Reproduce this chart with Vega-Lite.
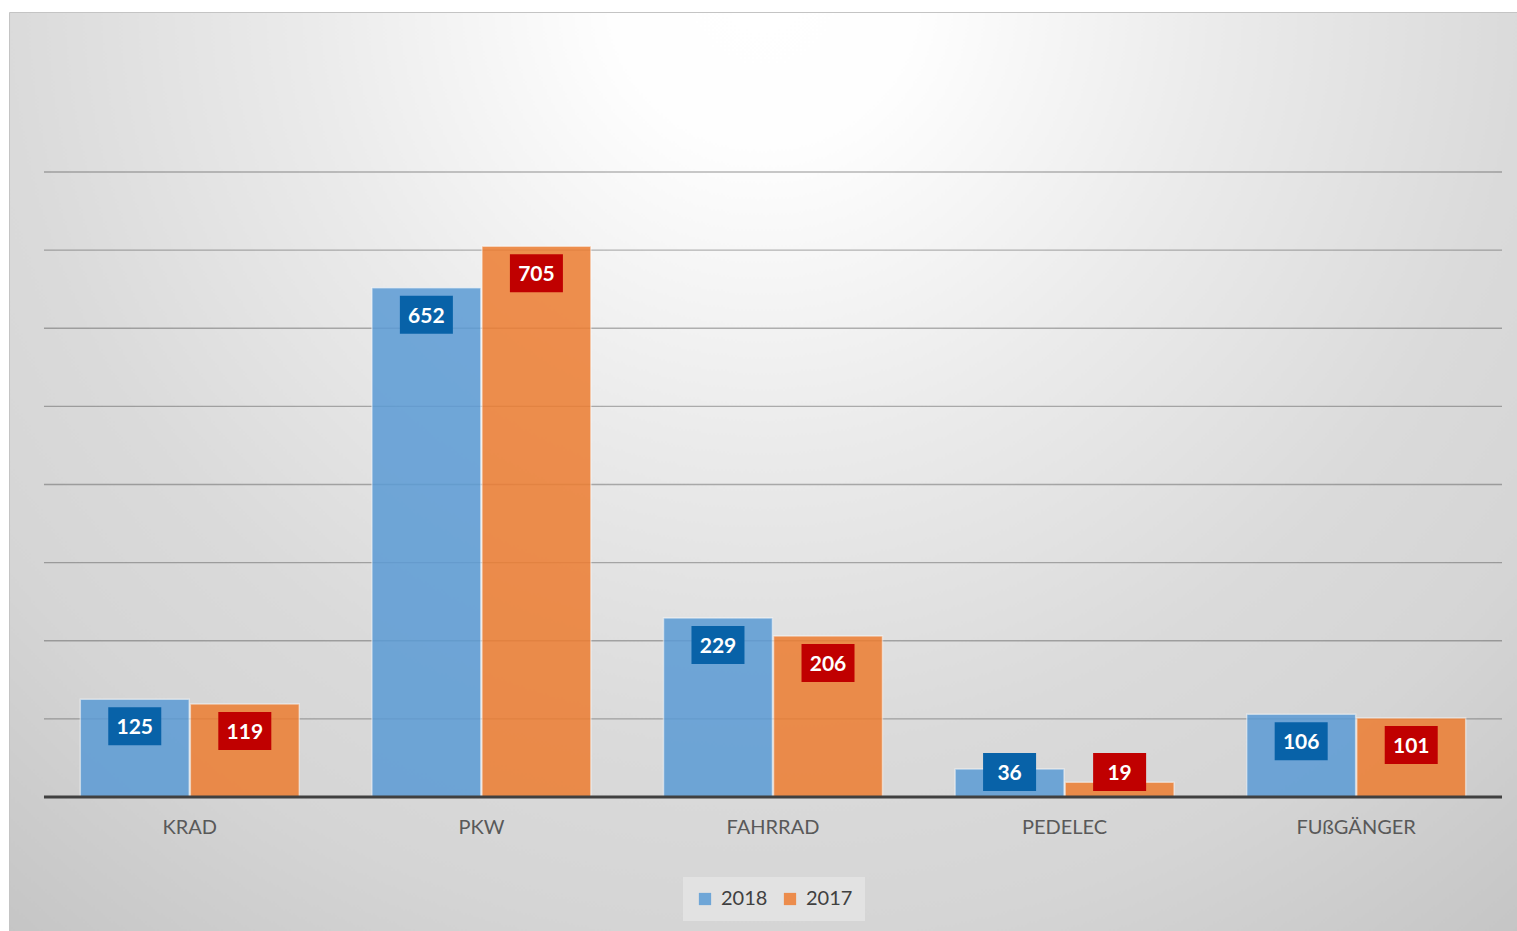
{
  "$schema": "https://vega.github.io/schema/vega-lite/v6.json",
  "width": 1508,
  "height": 919,
  "autosize": {"type": "none"},
  "padding": {"left": 9, "top": 12, "right": 0, "bottom": 0},
  "background": "#ffffff",
  "view": {
    "stroke": "#c4c4c4",
    "fill": {
      "gradient": "radial",
      "x1": 0.5, "y1": 0.182, "r1": 0,
      "x2": 0.5, "y2": 0.182, "r2": 0.8,
      "stops": [
        {"offset": 0, "color": "#ffffff"},
        {"offset": 0.124, "color": "#fefefe"},
        {"offset": 0.373, "color": "#ebebeb"},
        {"offset": 0.63, "color": "#dadada"},
        {"offset": 0.78, "color": "#d5d5d5"},
        {"offset": 1, "color": "#c5c5c5"}
      ]
    }
  },
  "config": {
    "font": "Lato",
    "axis": {"labelFont": "Lato"},
    "legend": {"labelFont": "Lato"}
  },
  "datasets": {
    "counts": [
      {"cat": "KRAD", "year": "2018", "value": 125},
      {"cat": "KRAD", "year": "2017", "value": 119},
      {"cat": "PKW", "year": "2018", "value": 652},
      {"cat": "PKW", "year": "2017", "value": 705},
      {"cat": "FAHRRAD", "year": "2018", "value": 229},
      {"cat": "FAHRRAD", "year": "2017", "value": 206},
      {"cat": "PEDELEC", "year": "2018", "value": 36},
      {"cat": "PEDELEC", "year": "2017", "value": 19},
      {"cat": "FUßGÄNGER", "year": "2018", "value": 106},
      {"cat": "FUßGÄNGER", "year": "2017", "value": 101}
    ],
    "grid": [
      {"tick": 100}, {"tick": 200}, {"tick": 300}, {"tick": 400},
      {"tick": 500}, {"tick": 600}, {"tick": 700}, {"tick": 800}
    ],
    "base": [{"tick": 0}]
  },
  "layer": [
    {
      "data": {"name": "grid"},
      "mark": {"type": "rule", "stroke": "#000000", "strokeOpacity": 0.28, "strokeWidth": 1.3},
      "encoding": {
        "x": {"datum": "KRAD", "type": "nominal", "bandPosition": 0,
              "scale": {"domain": ["KRAD", "PKW", "FAHRRAD", "PEDELEC", "FUßGÄNGER"], "paddingInner": 0, "paddingOuter": 0.0857, "align": 0.7}},
        "x2": {"datum": "FUßGÄNGER", "bandPosition": 1},
        "y": {"field": "tick", "type": "quantitative",
              "scale": {"domain": [-171.5, 1004.8], "nice": false, "zero": false}, "axis": null}
      }
    },
    {
      "data": {"name": "counts"},
      "mark": {"type": "bar", "opacity": 0.85, "stroke": "#ffffff", "strokeOpacity": 0.55, "strokeWidth": 1.5},
      "encoding": {
        "x": {"field": "cat", "type": "nominal", "title": null,
              "scale": {"domain": ["KRAD", "PKW", "FAHRRAD", "PEDELEC", "FUßGÄNGER"], "paddingInner": 0, "paddingOuter": 0.0857, "align": 0.7},
              "axis": {"orient": "bottom", "offset": -134, "domain": false, "ticks": false, "grid": false,
                       "labelFontSize": 20, "labelColor": "#595959", "labelPadding": 30, "labelBaseline": "middle",
                       "labelAlign": "center", "labelAngle": 0}},
        "xOffset": {"field": "year", "type": "nominal",
                    "scale": {"domain": ["2018", "2017"], "paddingInner": 0.01, "paddingOuter": 0.33}},
        "y": {"field": "value", "type": "quantitative", "stack": null,
              "scale": {"domain": [-171.5, 1004.8], "nice": false, "zero": false}, "axis": null},
        "color": {"field": "year", "type": "nominal",
                  "scale": {"domain": ["2018", "2017"], "range": ["#5B9BD5", "#ED7D31"]},
                  "legend": {"title": null, "orient": "none", "legendX": 674, "legendY": 865, "direction": "horizontal",
                             "fillColor": "#e2e2e2", "padding": 12, "labelFontSize": 20, "labelColor": "#404040",
                             "symbolType": "square", "symbolSize": 150, "symbolStrokeWidth": 0, "symbolOpacity": 0.85,
                             "columnPadding": 12, "labelOffset": 6}}
      }
    },
    {
      "data": {"name": "base"},
      "mark": {"type": "rule", "stroke": "#404040", "strokeWidth": 3},
      "encoding": {
        "x": {"datum": "KRAD", "type": "nominal", "bandPosition": 0},
        "x2": {"datum": "FUßGÄNGER", "bandPosition": 1},
        "y": {"field": "tick", "type": "quantitative"}
      }
    },
    {
      "data": {"name": "counts"},
      "mark": {"type": "bar", "width": 53,
               "yOffset": {"expr": "min(27, scale('y', 0) - 25 - scale('y', datum.value)) - 19"},
               "y2Offset": {"expr": "min(27, scale('y', 0) - 25 - scale('y', datum.value)) + 19"}},
      "encoding": {
        "x": {"field": "cat", "type": "nominal"},
        "xOffset": {"field": "year", "type": "nominal"},
        "y": {"field": "value", "type": "quantitative"},
        "y2": {"field": "value"},
        "fill": {"field": "year", "type": "nominal",
                 "scale": {"domain": ["2018", "2017"], "range": ["#0862A8", "#C00000"]}, "legend": null}
      }
    },
    {
      "data": {"name": "counts"},
      "mark": {"type": "text", "font": "Lato", "fontWeight": "bold", "fontSize": 21, "color": "#ffffff",
               "baseline": "middle", "align": "center",
               "dy": {"expr": "min(27, scale('y', 0) - 25 - scale('y', datum.value)) + 2"}},
      "encoding": {
        "x": {"field": "cat", "type": "nominal"},
        "xOffset": {"field": "year", "type": "nominal"},
        "y": {"field": "value", "type": "quantitative"},
        "text": {"field": "value", "type": "quantitative"}
      }
    }
  ]
}
